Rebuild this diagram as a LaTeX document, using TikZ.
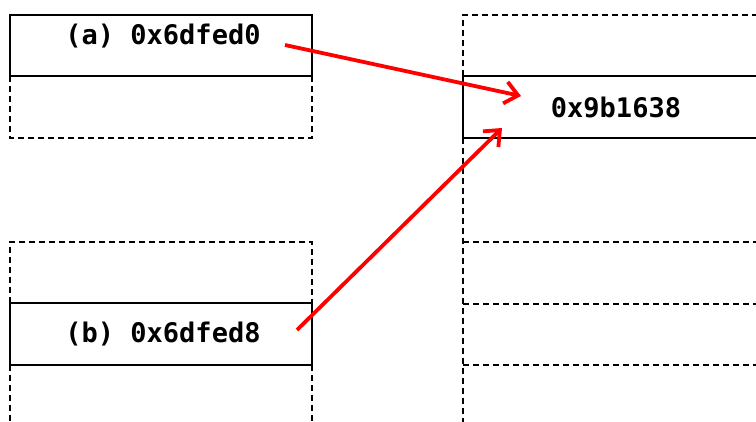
\documentclass[tikz,border=0pt]{standalone}
\usepackage{fontspec}
\setmonofont{DejaVu Sans Mono}
\usetikzlibrary{arrows.meta}
\begin{document}
\begin{tikzpicture}[x=1pt,y=-1pt,
  solidbox/.style={draw,line width=2.8pt,inner sep=0pt,outer sep=0pt,anchor=north west},
  dashline/.style={line width=2.8pt,dash pattern=on 6pt off 4pt},
  solidline/.style={line width=2.8pt},
  lbl/.style={font=\ttfamily\bfseries\fontsize{27}{32}\selectfont},
  ptr/.style={red,line width=3.8pt,-{Straight Barb[length=13pt,width=22pt]}}]
\useasboundingbox (0,0) rectangle (756,422);
% left top
\node[solidbox,minimum width=302pt,minimum height=61pt] (a) at (10,15) {};
\draw[dashline] (a.south west) -- (10,138) -- (312,138) -- (a.south east);
\node[lbl] (la) at (163,36) {(a) 0x6dfed0};
% left bottom
\node[solidbox,minimum width=302pt,minimum height=62pt] (b) at (10,303) {};
\draw[dashline] (b.north west) -- (10,242) -- (312,242) -- (b.north east);
\draw[dashline] (b.south west) -- (10,422);
\draw[dashline] (b.south east) -- (312,422);
\node[lbl] (lb) at (163,334) {(b) 0x6dfed8};
% right
\node[inner sep=0pt,outer sep=0pt,anchor=north west,minimum width=293pt,minimum height=62pt] (c) at (463,76) {};
\draw[solidline] (c.north east) -- (c.north west) -- (c.south west) -- (c.south east);
\node[lbl] (lc) at (616,108) {0x9b1638};
\draw[dashline] (c.north west) -- (463,15) -- (756,15);
\draw[dashline] (c.south west) -- (463,422);
\draw[dashline] (463,242) -- (756,242);
\draw[dashline] (463,304) -- (756,304);
\draw[dashline] (463,365) -- (756,365);
% pointers
\coordinate (pa) at (285,45);
\coordinate (pb) at (297,330);
\coordinate (ta) at (521,96);
\coordinate (tb) at (502,128);
\draw[ptr] (pa) -- (ta);
\draw[ptr] (pb) -- (tb);
\end{tikzpicture}
\end{document}
